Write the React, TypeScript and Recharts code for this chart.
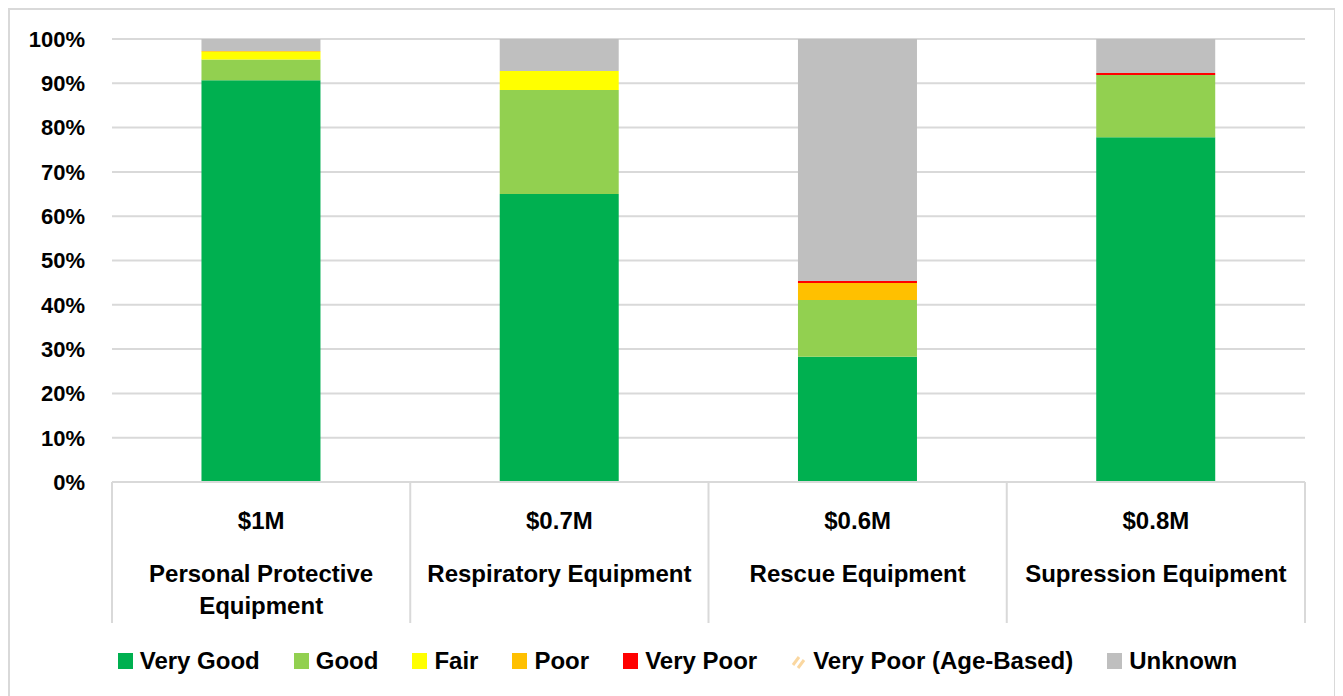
import { Bar, BarChart, CartesianGrid, Legend, XAxis, YAxis } from 'recharts';

const categories = [
  'Personal Protective Equipment',
  'Respiratory Equipment',
  'Rescue Equipment',
  'Supression Equipment',
];
const categoryLines = [
  ['Personal Protective', 'Equipment'],
  ['Respiratory Equipment'],
  ['Rescue Equipment'],
  ['Supression Equipment'],
];
const replacementValues = ['$1M', '$0.7M', '$0.6M', '$0.8M'];

const veryGood = [90.7, 65.0, 28.3, 77.8];
const good = [4.7, 23.5, 12.8, 14.1];
const fair = [1.7, 4.3, 0, 0];
const poor = [0.2, 0, 3.8, 0];
const veryPoor = [0, 0, 0.5, 0.4];
const veryPoorAge = [0, 0, 0, 0];
const unknown = [2.7, 7.2, 54.6, 7.7];

const yTicks = [0, 10, 20, 30, 40, 50, 60, 70, 80, 90, 100];

const SERIES = [
  { key: 'veryGood', name: 'Very Good', color: '#00B050', values: veryGood },
  { key: 'good', name: 'Good', color: '#92D050', values: good },
  { key: 'fair', name: 'Fair', color: '#FFFF00', values: fair },
  { key: 'poor', name: 'Poor', color: '#FFC000', values: poor },
  { key: 'veryPoor', name: 'Very Poor', color: '#FF0000', values: veryPoor },
  { key: 'veryPoorAge', name: 'Very Poor (Age-Based)', color: 'url(#ageHatch)', values: veryPoorAge },
  { key: 'unknown', name: 'Unknown', color: '#BFBFBF', values: unknown },
];

const data = categories.map((name, i) => {
  const row: Record<string, string | number> = { name };
  SERIES.forEach((s) => {
    row[s.key] = s.values[i];
  });
  return row;
});

const WIDTH = 1324;
const HEIGHT = 686;
const MARGIN = { top: 29, right: 29, bottom: 0, left: 0 };
const Y_AXIS_WIDTH = 102;
const BAND = (WIDTH - MARGIN.left - MARGIN.right - Y_AXIS_WIDTH) / categories.length;
const FONT = '"Liberation Sans", Arial, sans-serif';
const GRID = '#D9D9D9';

// Excel-style category box: divider lines between bands, cost on top, name below
function CategoryTick(props: any) {
  const { x, y, index } = props;
  const half = BAND / 2;
  const lines = categoryLines[index] || [];
  return (
    <g>
      <line x1={x - half} x2={x - half} y1={y} y2={y + 141} stroke={GRID} strokeWidth={2} />
      {index === categories.length - 1 && (
        <line x1={x + half} x2={x + half} y1={y} y2={y + 141} stroke={GRID} strokeWidth={2} />
      )}
      <text x={x} y={y + 47} textAnchor="middle" fontFamily={FONT} fontWeight="bold" fontSize={24} fill="#000">
        {replacementValues[index]}
      </text>
      {lines.map((line: string, i: number) => (
        <text
          key={line}
          x={x}
          y={y + 100 + i * 32}
          textAnchor="middle"
          fontFamily={FONT}
          fontWeight="bold"
          fontSize={24}
          fill="#000"
        >
          {line}
        </text>
      ))}
    </g>
  );
}

function LegendIcon({ color, hatched }: { color: string; hatched: boolean }) {
  if (hatched) {
    return (
      <svg width={15} height={16} style={{ marginRight: 7 }}>
        <line x1={2} y1={12} x2={8} y2={4} stroke="#FAD7A0" strokeWidth={3} />
        <line x1={7} y1={15} x2={13} y2={7} stroke="#FAD7A0" strokeWidth={3} />
      </svg>
    );
  }
  return <span style={{ width: 15, height: 16, background: color, display: 'inline-block', marginRight: 7 }} />;
}

function ConditionLegend() {
  return (
    <div
      style={{
        height: 64,
        display: 'flex',
        alignItems: 'center',
        justifyContent: 'center',
        paddingBottom: 6,
        paddingLeft: 40,
        boxSizing: 'border-box',
        fontFamily: FONT,
        fontWeight: 'bold',
        fontSize: 24,
        color: '#000',
      }}
    >
      {SERIES.map((s) => (
        <span key={s.key} style={{ display: 'flex', alignItems: 'center', margin: '0 17px' }}>
          <LegendIcon color={s.color} hatched={s.key === 'veryPoorAge'} />
          {s.name}
        </span>
      ))}
    </div>
  );
}

export default function App() {
  return (
    <div
      style={{
        width: WIDTH + 4,
        height: HEIGHT + 4,
        border: `2px solid ${GRID}`,
        boxSizing: 'border-box',
        background: '#fff',
      }}
    >
      <BarChart width={WIDTH} height={HEIGHT} data={data} margin={MARGIN} barCategoryGap="30%">
        <defs>
          <pattern id="ageHatch" width={6} height={6} patternUnits="userSpaceOnUse" patternTransform="rotate(45)">
            <rect width={3} height={6} fill="#FAD7A0" />
          </pattern>
        </defs>
        <CartesianGrid vertical={false} stroke={GRID} strokeWidth={2} />
        <XAxis
          dataKey="name"
          interval={0}
          height={150}
          tickLine={false}
          tickSize={0}
          tickMargin={0}
          axisLine={{ stroke: GRID, strokeWidth: 2 }}
          tick={<CategoryTick />}
        />
        <YAxis
          width={Y_AXIS_WIDTH}
          domain={[0, 100]}
          ticks={yTicks}
          tickFormatter={(v: number) => `${v}%`}
          axisLine={false}
          tickLine={false}
          tickSize={0}
          tickMargin={27}
          tick={{ fontFamily: FONT, fontWeight: 'bold', fontSize: 22, fill: '#000' }}
        />
        <Legend verticalAlign="bottom" content={<ConditionLegend />} />
        {SERIES.map((s) => (
          <Bar key={s.key} dataKey={s.key} name={s.name} stackId="a" fill={s.color} isAnimationActive={false} />
        ))}
      </BarChart>
    </div>
  );
}
